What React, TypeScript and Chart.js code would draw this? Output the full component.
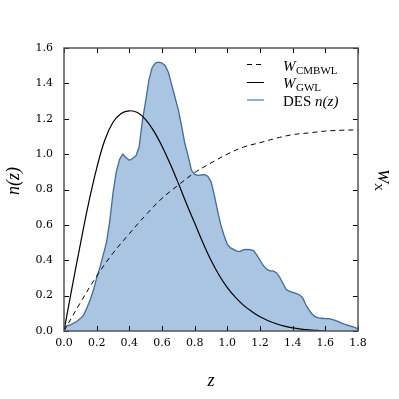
import { useEffect, useRef } from 'react';
import { Chart, registerables } from 'chart.js';
Chart.register(...registerables);

// DES n(z) histogram
const nzZ = [0.00, 0.02, 0.04, 0.06, 0.08, 0.10, 0.12, 0.14, 0.16, 0.18, 0.20, 0.22, 0.24, 0.26, 0.28, 0.30, 0.32, 0.34, 0.36, 0.38, 0.40, 0.42, 0.44, 0.46, 0.48, 0.50, 0.52, 0.54, 0.56, 0.58, 0.60, 0.62, 0.64, 0.66, 0.68, 0.70, 0.72, 0.74, 0.76, 0.78, 0.80, 0.82, 0.84, 0.86, 0.88, 0.90, 0.92, 0.94, 0.96, 0.98, 1.00, 1.02, 1.04, 1.06, 1.08, 1.10, 1.12, 1.14, 1.16, 1.18, 1.20, 1.22, 1.24, 1.26, 1.28, 1.30, 1.32, 1.34, 1.36, 1.38, 1.40, 1.42, 1.44, 1.46, 1.48, 1.50, 1.52, 1.54, 1.56, 1.58, 1.60, 1.62, 1.64, 1.66, 1.68, 1.70, 1.72, 1.74, 1.76, 1.78, 1.80];
const nzVals = [0.02, 0.03, 0.035, 0.045, 0.055, 0.07, 0.09, 0.13, 0.175, 0.23, 0.30, 0.36, 0.43, 0.50, 0.62, 0.78, 0.90, 0.97, 1.0, 0.98, 0.965, 0.975, 0.99, 1.04, 1.19, 1.30, 1.42, 1.49, 1.515, 1.52, 1.515, 1.50, 1.46, 1.39, 1.32, 1.25, 1.16, 1.06, 0.99, 0.91, 0.885, 0.88, 0.882, 0.885, 0.875, 0.845, 0.77, 0.68, 0.60, 0.54, 0.49, 0.47, 0.46, 0.45, 0.45, 0.46, 0.462, 0.46, 0.455, 0.43, 0.40, 0.37, 0.35, 0.34, 0.34, 0.33, 0.305, 0.27, 0.235, 0.225, 0.218, 0.213, 0.205, 0.19, 0.15, 0.12, 0.095, 0.08, 0.074, 0.072, 0.07, 0.07, 0.066, 0.06, 0.053, 0.045, 0.038, 0.032, 0.026, 0.02, 0.012];

// W_GWL kernel
const gwlZ = [0.00, 0.05, 0.10, 0.15, 0.20, 0.25, 0.30, 0.35, 0.40, 0.45, 0.50, 0.55, 0.60, 0.65, 0.70, 0.75, 0.80, 0.85, 0.90, 0.95, 1.00, 1.05, 1.10, 1.15, 1.20, 1.25, 1.30, 1.35, 1.40, 1.45, 1.50, 1.55, 1.60];
const gwlVals = [0.0, 0.25, 0.49, 0.72, 0.92, 1.08, 1.18, 1.23, 1.245, 1.235, 1.195, 1.13, 1.045, 0.945, 0.835, 0.72, 0.61, 0.50, 0.40, 0.315, 0.245, 0.19, 0.145, 0.11, 0.08, 0.058, 0.041, 0.028, 0.018, 0.011, 0.006, 0.003, 0.0];

// W_CMBWL kernel
const cmbZ = [0.0, 0.1, 0.2, 0.3, 0.4, 0.5, 0.6, 0.7, 0.8, 0.9, 1.0, 1.1, 1.2, 1.3, 1.4, 1.5, 1.6, 1.7, 1.8];
const cmbVals = [0.0, 0.16, 0.31, 0.44, 0.55, 0.655, 0.75, 0.825, 0.895, 0.95, 1.00, 1.04, 1.065, 1.09, 1.11, 1.12, 1.13, 1.135, 1.137];

const xMin = 0, xMax = 1.8, xStep = 0.2;
const yMin = 0, yMax = 1.6, yStep = 0.2;

const legendCMB = ['W', 'CMBWL'];
const legendGWL = ['W', 'GWL'];
const legendDES = ['DES ', 'n(z)'];
const xTitle = 'z';
const yTitle = 'n(z)';
const rightTitle = ['W', 'X'];

const toXY = (xs: number[], ys: number[]) => xs.map((x, i) => ({ x, y: ys[i] }));

const decor = {
  id: 'decor',
  afterDraw(chart: any) {
    const { ctx, chartArea: a, scales } = chart;
    const x = scales.x, y = scales.y;
    ctx.save();
    // inward ticks
    ctx.strokeStyle = '#000';
    ctx.lineWidth = 1;
    const seg = (x1: number, y1: number, x2: number, y2: number) => {
      ctx.beginPath(); ctx.moveTo(x1, y1); ctx.lineTo(x2, y2); ctx.stroke();
    };
    x.ticks.forEach((t: any) => {
      const px = Math.round(x.getPixelForValue(t.value)) + 0.5;
      seg(px, a.bottom, px, a.bottom - 5);
      seg(px, a.top, px, a.top + 5);
    });
    y.ticks.forEach((t: any) => {
      const py = Math.round(y.getPixelForValue(t.value)) + 0.5;
      seg(a.left, py, a.left + 5, py);
      seg(a.right, py, a.right - 5, py);
    });
    // frame
    ctx.strokeStyle = '#555';
    ctx.lineWidth = 1.5;
    ctx.strokeRect(a.left, a.top, a.right - a.left, a.bottom - a.top);

    // legend
    const lx1 = 247, lx2 = 264, tx = 283;
    ctx.strokeStyle = '#000';
    ctx.lineWidth = 1;
    ctx.setLineDash([5, 4]);
    seg(lx1, 64.5, lx2, 64.5);
    ctx.setLineDash([]);
    seg(lx1, 82.5, lx2, 82.5);
    ctx.strokeStyle = '#8fb0d4';
    ctx.lineWidth = 2;
    seg(lx1, 100, lx2, 100);

    ctx.fillStyle = '#000';
    ctx.textBaseline = 'alphabetic';
    ctx.textAlign = 'left';
    const drawSub = (base: string, sub: string, bx: number, by: number, bSize: number, sSize: number) => {
      ctx.font = `italic ${bSize}px "Liberation Serif"`;
      ctx.fillText(base, bx, by);
      const w = ctx.measureText(base).width;
      ctx.font = `${sSize}px "Liberation Serif"`;
      ctx.fillText(sub, bx + w + 0.5, by + 3);
    };
    drawSub(legendCMB[0], legendCMB[1], tx, 71, 15, 11);
    drawSub(legendGWL[0], legendGWL[1], tx, 88, 15, 11);
    ctx.font = '15px "Liberation Serif"';
    ctx.fillText(legendDES[0], tx, 106);
    const dw = ctx.measureText(legendDES[0]).width;
    ctx.font = 'italic 15px "Liberation Serif"';
    ctx.fillText(legendDES[1], tx + dw, 106);

    // axis titles
    ctx.textAlign = 'center';
    ctx.textBaseline = 'middle';
    ctx.font = 'italic 18px "Liberation Serif"';
    ctx.fillText(xTitle, (a.left + a.right) / 2, 381);

    ctx.save();
    ctx.translate(14, 181);
    ctx.rotate(-Math.PI / 2);
    ctx.fillText(yTitle, 0, 0);
    ctx.restore();

    ctx.save();
    ctx.translate(383, 180);
    ctx.rotate(Math.PI / 2);
    ctx.textAlign = 'left';
    ctx.textBaseline = 'alphabetic';
    ctx.font = 'italic 17px "Liberation Serif"';
    const ww = ctx.measureText(rightTitle[0]).width;
    ctx.font = '11px "Liberation Serif"';
    const xw = ctx.measureText(rightTitle[1]).width;
    const start = -(ww + xw) / 2;
    ctx.font = 'italic 17px "Liberation Serif"';
    ctx.fillText(rightTitle[0], start, 5);
    ctx.font = '11px "Liberation Serif"';
    ctx.fillText(rightTitle[1], start + ww, 8);
    ctx.restore();

    ctx.restore();
  },
};

export default function App() {
  const ref = useRef<HTMLCanvasElement | null>(null);
  useEffect(() => {
    document.body.style.margin = '0';
    const canvas = ref.current;
    if (!canvas) return;
    const chart = new Chart(canvas, {
      type: 'line',
      data: {
        datasets: [
          {
            label: 'W_CMBWL',
            data: toXY(cmbZ, cmbVals),
            borderColor: '#000',
            borderWidth: 1,
            borderDash: [5, 4],
            pointRadius: 0,
            fill: false,
            tension: 0.4,
            order: 1,
          },
          {
            label: 'W_GWL',
            data: toXY(gwlZ, gwlVals),
            borderColor: '#000',
            borderWidth: 1.2,
            pointRadius: 0,
            fill: false,
            tension: 0.4,
            order: 2,
          },
          {
            label: 'DES n(z)',
            data: toXY(nzZ, nzVals),
            borderColor: '#3f6b9c',
            backgroundColor: '#aac5e1',
            borderWidth: 1.3,
            pointRadius: 0,
            fill: 'origin',
            tension: 0,
            order: 3,
          },
        ],
      },
      options: {
        responsive: false,
        animation: false,
        events: [],
        layout: { padding: { top: 48, right: 41, left: 0, bottom: 0 } },
        plugins: { legend: { display: false }, tooltip: { enabled: false } },
        scales: {
          x: {
            type: 'linear',
            min: xMin,
            max: xMax,
            afterFit: (s: any) => { s.height = 68; },
            grid: { display: false, drawTicks: false },
            border: { display: false },
            ticks: {
              stepSize: xStep,
              autoSkip: false,
              maxRotation: 0,
              padding: 6,
              color: '#000',
              font: { family: '"DejaVu Serif"', size: 11 },
              callback: (v: any) => Number(v).toFixed(1),
            },
          },
          y: {
            type: 'linear',
            min: yMin,
            max: yMax,
            afterFit: (s: any) => { s.width = 64; },
            grid: { display: false, drawTicks: false },
            border: { display: false },
            ticks: {
              stepSize: yStep,
              padding: 11,
              color: '#000',
              font: { family: '"DejaVu Serif"', size: 11 },
              callback: (v: any) => Number(v).toFixed(1),
            },
          },
        },
      },
      plugins: [decor],
    } as any);
    return () => chart.destroy();
  }, []);
  return (
    <div style={{ width: 399, height: 399 }}>
      <canvas ref={ref} width={399} height={399} style={{ display: 'block' }} />
    </div>
  );
}
